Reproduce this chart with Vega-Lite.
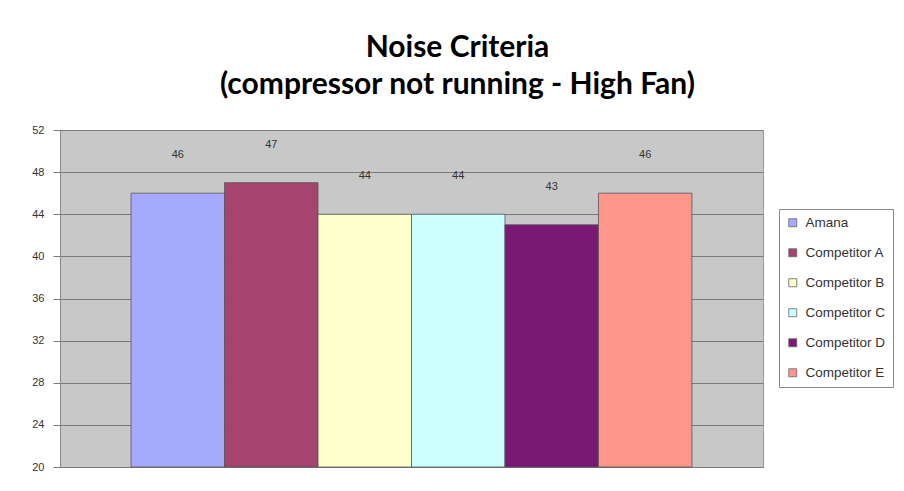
{
  "$schema": "https://vega.github.io/schema/vega-lite/v6.json",
  "width": 703,
  "height": 337,
  "autosize": {"type": "none"},
  "padding": {"left": 60, "top": 130, "right": 141, "bottom": 24},
  "background": "white",
  "title": {
    "text": ["Noise Criteria", "(compressor not running - High Fan)"],
    "anchor": "middle",
    "dx": 46,
    "offset": 24,
    "font": "Lato",
    "fontSize": 30,
    "fontWeight": "bold",
    "color": "#000000",
    "lineHeight": 37
  },
  "data": {
    "values": [
      {"name": "Amana", "value": 46},
      {"name": "Competitor A", "value": 47},
      {"name": "Competitor B", "value": 44},
      {"name": "Competitor C", "value": 44},
      {"name": "Competitor D", "value": 43},
      {"name": "Competitor E", "value": 46}
    ]
  },
  "encoding": {
    "x": {
      "field": "name",
      "type": "nominal",
      "sort": null,
      "scale": {"paddingInner": 0, "paddingOuter": 0.76},
      "axis": null
    }
  },
  "layer": [
    {
      "mark": {"type": "bar", "stroke": "#555555", "strokeWidth": 0.8},
      "encoding": {
        "y": {
          "field": "value",
          "type": "quantitative",
          "scale": {"domain": [20, 52], "zero": false, "nice": false},
          "axis": {
            "values": [20, 24, 28, 32, 36, 40, 44, 48, 52],
            "title": null,
            "grid": true,
            "gridColor": "#7a7a7a",
            "gridWidth": 1,
            "gridOpacity": 1,
            "domain": true,
            "domainColor": "#8a8a8a",
            "tickColor": "#7a7a7a",
            "tickSize": 7,
            "labelPadding": 9,
            "labelFont": "Liberation Sans",
            "labelFontSize": 11,
            "labelColor": "#333333"
          }
        },
        "y2": {"datum": 20},
        "color": {
          "field": "name",
          "type": "nominal",
          "sort": null,
          "scale": {
            "domain": ["Amana", "Competitor A", "Competitor B", "Competitor C", "Competitor D", "Competitor E"],
            "range": ["#a6aaff", "#a5456f", "#ffffcc", "#ccffff", "#7a1875", "#ff958b"]
          },
          "legend": {
            "title": null,
            "orient": "none",
            "legendX": 719,
            "legendY": 79,
            "symbolType": "square",
            "symbolSize": 64,
            "symbolStrokeColor": "#666666",
            "symbolStrokeWidth": 0.8,
            "labelFont": "Liberation Sans",
            "labelFontSize": 13.5,
            "labelColor": "#333333",
            "labelOffset": 6,
            "rowPadding": 15,
            "padding": 7,
            "strokeColor": "#8a8a8a",
            "fillColor": "#ffffff",
            "labelLimit": 130
          }
        }
      }
    },
    {
      "mark": {
        "type": "text",
        "baseline": "middle",
        "dy": -38,
        "font": "Liberation Sans",
        "fontSize": 11,
        "color": "#333333"
      },
      "encoding": {
        "y": {"field": "value", "type": "quantitative"},
        "text": {"field": "value", "type": "quantitative"}
      }
    }
  ],
  "config": {
    "view": {"fill": "#c8c8c8", "stroke": "#9a9a9a", "strokeWidth": 1}
  }
}
